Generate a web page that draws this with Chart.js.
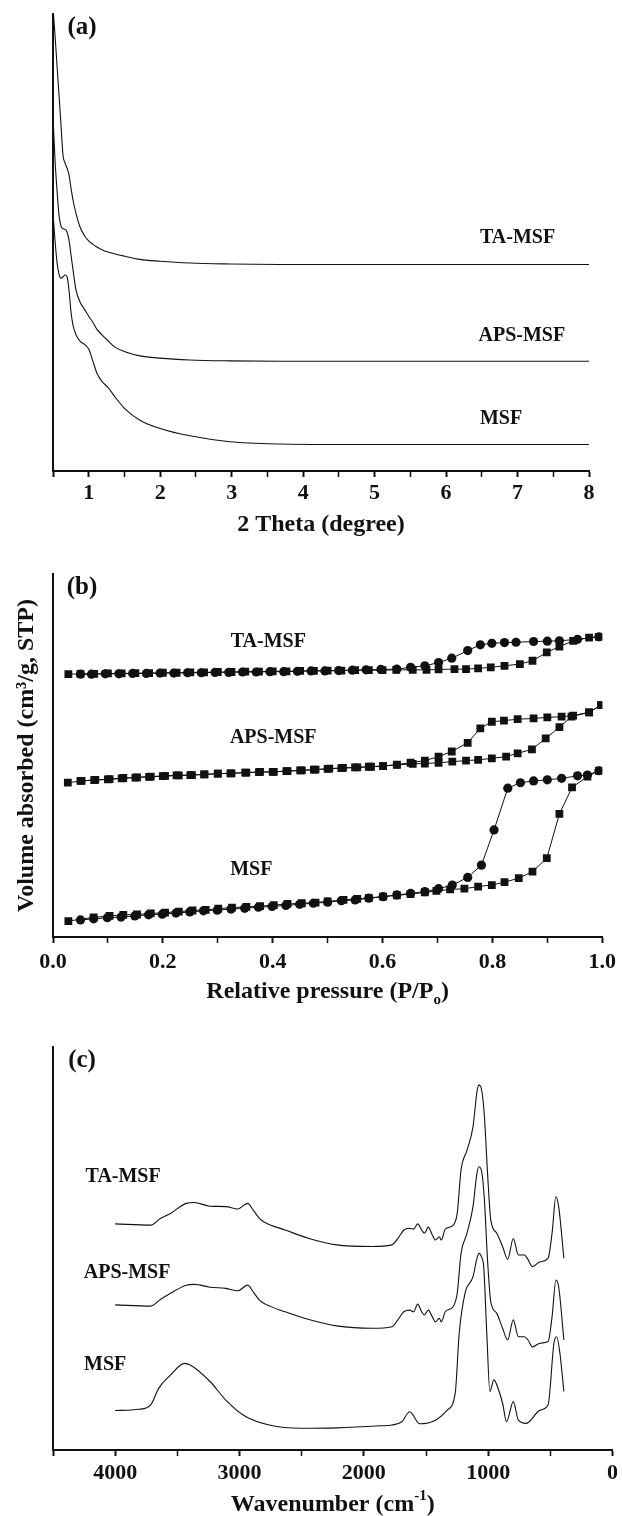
<!DOCTYPE html>
<html lang="en">
<head>
<meta charset="utf-8">
<script src="https://cdn.jsdelivr.net/npm/chart.js"></script>
<style>
  body { margin: 0; background: #fff; width: 622px; height: 1516px; position: relative; overflow: hidden; }
  canvas { position: absolute; left: 0; }
</style>
</head>
<body>
<canvas id="xrdChart" width="622" height="545" style="top:0px"></canvas>
<canvas id="isoChart" width="622" height="470" style="top:545px"></canvas>
<canvas id="irChart" width="622" height="501" style="top:1015px"></canvas>

<script>
// ---- (a) small-angle XRD ----
const thetaDeg = [0.507, 0.528, 0.556, 0.584, 0.612, 0.640, 0.668, 0.696, 0.724, 0.752, 0.780, 0.822, 0.878, 0.948, 1.003, 1.059, 1.115, 1.185, 1.269, 1.367, 1.507, 1.717, 1.997, 2.416, 2.976, 3.675, 4.5, 5.5, 6.5, 7.5, 8.0];
const xrdTA  = [100, 95.4, 88.8, 82.3, 75.7, 69.1, 67.4, 66.3, 64.8, 61.9, 59.3, 56.3, 53.4, 51.3, 50.3, 49.6, 49.0, 48.4, 47.9, 47.5, 47.0, 46.3, 45.9, 45.5, 45.3, 45.2, 45.2, 45.2, 45.2, 45.2, 45.2];
const xrdAPS = [75.3, 68.1, 61.5, 56.0, 53.6, 53.0, 52.9, 52.3, 50.5, 47.3, 44.0, 39.6, 37.0, 35.2, 33.8, 32.5, 31.0, 29.8, 28.5, 27.1, 26.1, 25.2, 24.7, 24.3, 24.1, 24.0, 24.0, 24.0, 24.0, 24.0, 24.0];
const xrdMSF = [54.9, 50.5, 45.7, 43.1, 42.2, 42.5, 42.9, 42.5, 39.6, 34.8, 31.9, 29.8, 28.4, 27.6, 26.6, 24.0, 21.4, 19.6, 18.3, 16.2, 13.6, 11.1, 9.3, 7.7, 6.4, 5.9, 5.8, 5.8, 5.8, 5.8, 5.8];

// ---- (b) N2 isotherms ----
const taAdsP = [0.028, 0.05, 0.075, 0.10, 0.125, 0.15, 0.175, 0.20, 0.225, 0.25, 0.275, 0.30, 0.325, 0.35, 0.375, 0.40, 0.425, 0.45, 0.475, 0.50, 0.525, 0.55, 0.575, 0.60, 0.625, 0.655, 0.68, 0.702, 0.731, 0.752, 0.774, 0.797, 0.822, 0.85, 0.873, 0.899, 0.922, 0.947, 0.976, 0.994];
const taAdsV = [72.4, 72.5, 72.5, 72.6, 72.6, 72.7, 72.7, 72.8, 72.8, 72.9, 72.9, 73.0, 73.0, 73.1, 73.1, 73.2, 73.2, 73.3, 73.3, 73.4, 73.4, 73.5, 73.5, 73.5, 73.6, 73.6, 73.6, 73.7, 73.8, 73.8, 74.0, 74.3, 74.7, 75.2, 76.1, 78.4, 80.0, 81.6, 82.5, 82.7];
const taDesP = [0.994, 0.955, 0.922, 0.90, 0.875, 0.843, 0.822, 0.799, 0.778, 0.755, 0.726, 0.702, 0.677, 0.651, 0.626, 0.597, 0.57, 0.545, 0.52, 0.495, 0.47, 0.445, 0.42, 0.395, 0.37, 0.345, 0.32, 0.295, 0.27, 0.245, 0.22, 0.195, 0.17, 0.145, 0.12, 0.095, 0.07, 0.05];
const taDesV = [82.7, 82.0, 81.6, 81.5, 81.4, 81.2, 81.1, 80.9, 80.5, 78.9, 76.8, 75.6, 74.7, 74.3, 73.8, 73.7, 73.6, 73.5, 73.4, 73.3, 73.3, 73.2, 73.1, 73.1, 73.0, 73.0, 72.9, 72.9, 72.8, 72.8, 72.7, 72.7, 72.6, 72.6, 72.5, 72.5, 72.4, 72.4];

const apsAdsP = [0.027, 0.052, 0.077, 0.103, 0.128, 0.153, 0.178, 0.204, 0.229, 0.253, 0.276, 0.30, 0.323, 0.352, 0.377, 0.402, 0.427, 0.453, 0.478, 0.503, 0.528, 0.554, 0.579, 0.601, 0.626, 0.655, 0.677, 0.702, 0.727, 0.752, 0.774, 0.799, 0.825, 0.846, 0.872, 0.897, 0.922, 0.944, 0.976, 0.998];
const apsAdsV = [42.5, 43.0, 43.3, 43.5, 43.8, 44.0, 44.2, 44.4, 44.5, 44.6, 44.8, 45.0, 45.1, 45.3, 45.5, 45.5, 45.7, 45.9, 46.1, 46.4, 46.6, 46.7, 46.9, 47.1, 47.4, 47.7, 47.8, 48.0, 48.3, 48.6, 48.8, 49.2, 49.7, 50.6, 51.7, 54.7, 57.8, 60.7, 61.9, 63.9];
const apsDesP = [0.998, 0.976, 0.947, 0.926, 0.90, 0.875, 0.846, 0.821, 0.799, 0.778, 0.755, 0.726, 0.702, 0.677, 0.651, 0.626, 0.601, 0.575, 0.55, 0.525, 0.50, 0.475, 0.45, 0.425, 0.40, 0.375, 0.35, 0.325, 0.30, 0.275, 0.25, 0.225, 0.20, 0.175, 0.15, 0.125, 0.10, 0.075, 0.05];
const apsDesV = [63.9, 61.9, 61.0, 60.7, 60.5, 60.2, 60.0, 59.6, 59.3, 57.5, 53.5, 51.1, 49.7, 48.6, 48.0, 47.5, 47.1, 46.9, 46.7, 46.5, 46.3, 46.1, 45.9, 45.7, 45.5, 45.4, 45.3, 45.1, 45.0, 44.8, 44.6, 44.5, 44.3, 44.1, 43.9, 43.7, 43.4, 43.2, 43.0];

const msfAdsP = [0.028, 0.074, 0.103, 0.128, 0.153, 0.178, 0.204, 0.229, 0.254, 0.278, 0.301, 0.326, 0.352, 0.377, 0.402, 0.427, 0.453, 0.478, 0.50, 0.529, 0.554, 0.575, 0.601, 0.626, 0.651, 0.677, 0.698, 0.723, 0.749, 0.774, 0.799, 0.822, 0.848, 0.873, 0.899, 0.922, 0.945, 0.973, 0.994];
const msfAdsV = [4.4, 5.4, 5.8, 6.1, 6.2, 6.5, 6.7, 7.0, 7.3, 7.5, 7.8, 8.1, 8.3, 8.5, 8.8, 9.1, 9.3, 9.5, 9.8, 10.2, 10.5, 10.8, 11.1, 11.5, 11.8, 12.3, 12.7, 13.1, 13.3, 13.9, 14.3, 15.1, 16.2, 18.0, 21.7, 33.9, 41.2, 44.2, 45.8];
const msfDesP = [0.994, 0.973, 0.955, 0.926, 0.90, 0.875, 0.851, 0.828, 0.803, 0.78, 0.755, 0.727, 0.702, 0.677, 0.651, 0.626, 0.601, 0.575, 0.55, 0.525, 0.50, 0.474, 0.449, 0.424, 0.399, 0.374, 0.349, 0.324, 0.299, 0.274, 0.249, 0.224, 0.199, 0.174, 0.149, 0.124, 0.099, 0.074, 0.05];
const msfDesV = [45.8, 44.6, 44.4, 43.7, 43.3, 43.0, 42.5, 41.0, 29.5, 19.8, 16.4, 14.3, 13.3, 12.5, 12.0, 11.6, 11.1, 10.7, 10.2, 10.0, 9.6, 9.3, 9.0, 8.7, 8.4, 8.2, 7.9, 7.7, 7.4, 7.2, 6.9, 6.6, 6.3, 6.1, 5.8, 5.5, 5.3, 5.0, 4.7];

// ---- (c) FTIR ----
const wnModified = [4000, 3714, 3634, 3555, 3428, 3364, 3237, 3110, 3014, 2935, 2887, 2840, 2792, 2633, 2442, 2219, 1933, 1774, 1726, 1678, 1631, 1599, 1567, 1535, 1513, 1481, 1450, 1424, 1393, 1377, 1345, 1281, 1249, 1218, 1170, 1122, 1090, 1074, 1050, 1030, 1005, 979, 931, 884, 843, 798, 757, 709, 680, 645, 582, 518, 486, 455, 433, 391];
const irTA  = [56.1, 55.8, 57.5, 58.7, 61.2, 61.4, 60.5, 60.4, 59.8, 61.2, 59.4, 57.5, 56.4, 54.6, 52.5, 50.9, 50.5, 50.9, 52.5, 54.6, 55.0, 54.8, 56.1, 54.6, 53.8, 55.3, 53.4, 52.1, 52.9, 52.1, 54.8, 55.8, 58.7, 69.5, 74.4, 80.2, 88.9, 90.6, 88.9, 82.7, 68.7, 57.1, 53.8, 50.5, 47.3, 52.5, 48.4, 48.4, 47.3, 45.5, 46.7, 47.6, 53.8, 62.9, 60.4, 47.6];
const irAPS = [36.0, 35.7, 37.4, 38.9, 40.9, 41.1, 40.4, 40.1, 39.5, 40.9, 39.1, 37.2, 36.2, 34.3, 32.4, 30.8, 30.2, 30.6, 32.3, 34.3, 34.7, 34.3, 36.2, 34.3, 33.5, 34.7, 33.1, 31.8, 32.7, 31.8, 34.3, 35.6, 38.9, 48.8, 53.8, 60.4, 68.7, 70.3, 68.7, 62.0, 47.1, 36.8, 33.9, 30.2, 27.3, 32.3, 28.1, 28.1, 27.3, 25.6, 26.5, 26.9, 33.1, 42.2, 40.5, 27.3];
const wnMSF = [4000, 3809, 3714, 3650, 3555, 3443, 3396, 3237, 3110, 2951, 2760, 2505, 2219, 1869, 1774, 1694, 1631, 1551, 1424, 1329, 1265, 1233, 1186, 1122, 1090, 1074, 1050, 1036, 1011, 986, 954, 916, 884, 852, 798, 757, 693, 582, 518, 471, 449, 423, 391];
const irMSF = [9.8, 10.1, 11.2, 15.3, 18.6, 21.5, 21.1, 17.0, 12.4, 8.3, 6.2, 5.4, 5.5, 6.0, 6.2, 7.0, 9.5, 6.5, 7.4, 9.9, 14.1, 28.9, 38.9, 43.0, 47.6, 48.8, 47.6, 45.5, 28.9, 14.5, 17.4, 14.9, 11.6, 7.0, 12.0, 7.4, 6.6, 9.9, 11.2, 26.5, 28.1, 24.0, 14.5];

const FAMILY = '"Liberation Serif", "Times New Roman", serif';
const INK = '#111';

Chart.defaults.font.family = FAMILY;
Chart.defaults.color = INK;
Chart.defaults.animation = false;
Chart.defaults.plugins.legend.display = false;
Chart.defaults.plugins.tooltip.enabled = false;

const pts = (xs, ys) => xs.map((x, i) => ({ x: x, y: ys[i] }));

// draws a title made of pieces, some raised or lowered (sub/superscript)
function drawRich(ctx, parts, cx, cy, size) {
  const big = 'bold ' + size + 'px ' + FAMILY;
  const small = 'bold ' + Math.round(size * 0.62) + 'px ' + FAMILY;
  let total = 0;
  const widths = [];
  for (const p of parts) {
    ctx.font = p.shift ? small : big;
    const w = ctx.measureText(p.t).width;
    widths.push(w);
    total += w;
  }
  let x = cx - total / 2;
  ctx.textAlign = 'left';
  ctx.textBaseline = 'middle';
  parts.forEach((p, i) => {
    ctx.font = p.shift ? small : big;
    ctx.fillText(p.t, x, cy + (p.shift || 0));
    x += widths[i];
  });
}

// curve names, panel letter and x-axis title (closure, not plugin options)
function figText(cfg) {
  return {
    id: 'figText',
    afterDraw(chart) {
      const ctx = chart.ctx, xs = chart.scales.x, ys = chart.scales.y, area = chart.chartArea;
      ctx.save();
      ctx.fillStyle = INK;
      ctx.textAlign = 'center';
      ctx.textBaseline = 'middle';
      ctx.font = 'bold 20px ' + FAMILY;
      cfg.labels.forEach(l => ctx.fillText(l.text, xs.getPixelForValue(l.x), ys.getPixelForValue(l.y)));
      ctx.font = 'bold 25px ' + FAMILY;
      ctx.fillText(cfg.letter, area.left + 29, area.top + 14);
      drawRich(ctx, cfg.xTitle, (area.left + area.right) / 2, area.bottom + cfg.xTitleGap, 24);
      ctx.restore();
    }
  };
}

function xAxis(min, max, step, label, major, boxHeight, pad, reverse) {
  return {
    type: 'linear', min: min, max: max, reverse: !!reverse,
    afterFit: s => { s.height = boxHeight; },
    border: { display: true, color: INK, width: 2 },
    grid: {
      drawOnChartArea: false, drawTicks: true, tickLength: 6,
      tickColor: INK,
      tickWidth: c => major(c.tick.value) ? 2 : 1.5
    },
    ticks: {
      stepSize: step, autoSkip: false, maxRotation: 0, padding: pad,
      font: { size: 22, weight: 'bold' },
      callback: v => label(v)
    }
  };
}

function yAxis(title) {
  return {
    type: 'linear', min: 0, max: 100,
    afterFit: s => { s.width = 53; },
    border: { display: true, color: INK, width: 2 },
    grid: { display: false },
    ticks: { display: false },
    title: title ? {
      display: true, text: title, padding: { top: 12, bottom: 0 },
      font: { size: 24, weight: 'bold' }, color: INK
    } : { display: false }
  };
}

const smoothLine = (data) => ({
  data: data, borderColor: INK, borderWidth: 1.1, pointRadius: 0,
  cubicInterpolationMode: 'monotone', fill: false
});

// (a)
new Chart(document.getElementById('xrdChart'), {
  type: 'line',
  data: {
    datasets: [
      smoothLine(pts(thetaDeg, xrdTA)),
      smoothLine(pts(thetaDeg, xrdAPS)),
      smoothLine(pts(thetaDeg, xrdMSF))
    ]
  },
  options: {
    responsive: false,
    layout: { padding: { top: 14, right: 33, left: 0, bottom: 0 } },
    scales: {
      x: xAxis(0.5, 8, 0.5,
        v => Number.isInteger(v) ? String(v) : '',
        v => Number.isInteger(v) || v === 0.5, 74, 3),
      y: yAxis(null)
    }
  },
  plugins: [figText({
    letter: '(a)',
    labels: [
      { text: 'TA-MSF', x: 7.0, y: 51.0 },
      { text: 'APS-MSF', x: 7.06, y: 29.5 },
      { text: 'MSF', x: 6.77, y: 11.4 }
    ],
    xTitle: [{ t: '2 Theta (degree)' }],
    xTitleGap: 54
  })]
});

// (b)
const adsSet = (data) => ({
  data: data, borderColor: INK, borderWidth: 1, backgroundColor: INK,
  pointStyle: 'rect', pointRadius: 5.5, pointBorderWidth: 0, tension: 0, fill: false
});
const desSet = (data, style) => ({
  data: data, borderColor: INK, borderWidth: 1, backgroundColor: INK,
  pointStyle: style, pointRadius: style === 'rect' ? 5.5 : 4.6, pointBorderWidth: 0, tension: 0, fill: false
});

new Chart(document.getElementById('isoChart'), {
  type: 'line',
  data: {
    datasets: [
      adsSet(pts(taAdsP, taAdsV)),
      desSet(pts(taDesP, taDesV), 'circle'),
      adsSet(pts(apsAdsP, apsAdsV)),
      desSet(pts(apsDesP, apsDesV), 'rect'),
      adsSet(pts(msfAdsP, msfAdsV)),
      desSet(pts(msfDesP, msfDesV), 'circle')
    ]
  },
  options: {
    responsive: false,
    layout: { padding: { top: 29, right: 15, left: 0, bottom: 0 } },
    scales: {
      x: xAxis(0, 1, 0.1,
        v => { const r = Math.round(v * 10); return r % 2 === 0 ? (r / 10).toFixed(1) : ''; },
        v => Math.round(v * 10) % 2 === 0, 78, 6),
      y: yAxis('Volume absorbed (cm\u00B3/g, STP)')
    }
  },
  plugins: [figText({
    letter: '(b)',
    labels: [
      { text: 'TA-MSF', x: 0.392, y: 81.3 },
      { text: 'APS-MSF', x: 0.401, y: 54.8 },
      { text: 'MSF', x: 0.361, y: 18.5 }
    ],
    xTitle: [{ t: 'Relative pressure (P/P' }, { t: 'o', shift: 8 }, { t: ')' }],
    xTitleGap: 55
  })]
});

// (c)
new Chart(document.getElementById('irChart'), {
  type: 'line',
  data: {
    datasets: [
      smoothLine(pts(wnModified, irTA)),
      smoothLine(pts(wnModified, irAPS)),
      smoothLine(pts(wnMSF, irMSF))
    ]
  },
  options: {
    responsive: false,
    layout: { padding: { top: 32, right: 8, left: 0, bottom: 0 } },
    scales: {
      x: xAxis(0, 4500, 500,
        v => (v % 1000 === 0 && v <= 4000) ? String(v) : '',
        v => v % 1000 === 0 || v === 4500, 66, 4, true),
      y: yAxis(null)
    }
  },
  plugins: [figText({
    letter: '(c)',
    labels: [
      { text: 'TA-MSF', x: 3936, y: 67.7 },
      { text: 'APS-MSF', x: 3904, y: 43.9 },
      { text: 'MSF', x: 4080, y: 21.1 }
    ],
    xTitle: [{ t: 'Wavenumber (cm' }, { t: '-1', shift: -9 }, { t: ')' }],
    xTitleGap: 55
  })]
});
</script>
</body>
</html>
